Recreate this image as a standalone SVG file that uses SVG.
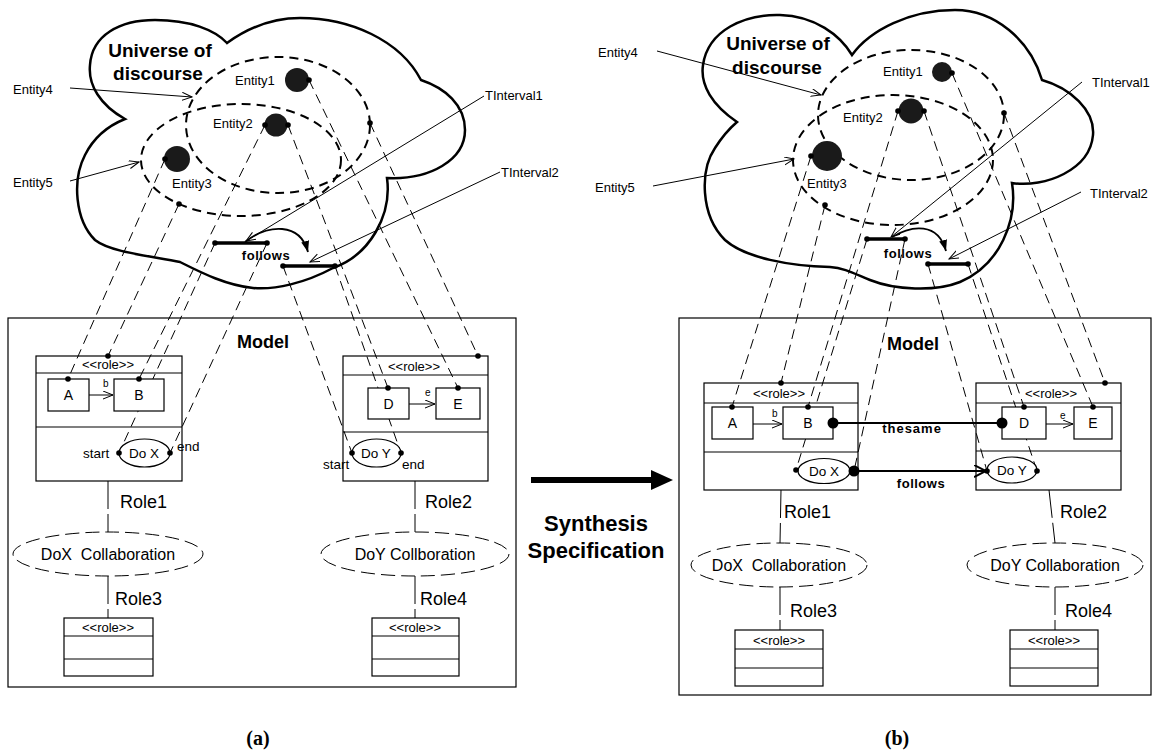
<svg xmlns="http://www.w3.org/2000/svg" width="1154" height="753" viewBox="0 0 1154 753">
  <style>
    text { font-family: "Liberation Sans", Arial, sans-serif; fill: #000; }
    .ent { font-size: 13px; }
    .title { font-size: 19px; font-weight: bold; }
    .model { font-size: 18px; font-weight: bold; }
    .bold13 { font-size: 13px; font-weight: bold; letter-spacing: 0.5px; }
    .stereo { font-size: 13px; }
    .cls { font-size: 14px; }
    .small { font-size: 10px; }
    .port { font-size: 13.5px; }
    .role { font-size: 18px; }
    .collab { font-size: 16px; }
    .big { font-size: 22px; font-weight: bold; }
    .caption { font-family: "Liberation Serif", "Times New Roman", serif; font-size: 20px; font-weight: bold; }
    .cloud { fill: none; stroke: #000; stroke-width: 2.5; }
    .setEll { fill: none; stroke: #000; stroke-width: 2; stroke-dasharray: 9 6; }
    .ent-dot { fill: #1a1a1a; }
    .box { fill: #fff; stroke: #000; stroke-width: 1.2; }
    .frame { fill: none; stroke: #000; stroke-width: 1.2; }
    .sep { stroke: #000; stroke-width: 1.2; }
    .oval { fill: #fff; stroke: #000; stroke-width: 1.2; }
    .proj { fill: none; stroke: #000; stroke-width: 1; stroke-dasharray: 10 6; }
    .roleLink { fill: none; stroke: #000; stroke-width: 1; stroke-dasharray: 28 5; }
    .collEll { fill: none; stroke: #000; stroke-width: 1; stroke-dasharray: 14 6; }
    .thin { fill: none; stroke: #000; stroke-width: 1; }
    .bar { stroke: #000; stroke-width: 3.5; }
    .rel { fill: none; stroke: #000; stroke-width: 2.2; }
    .dot { fill: #000; }
  </style>
  <defs>
    <marker id="open" markerUnits="userSpaceOnUse" markerWidth="12" markerHeight="10" refX="10" refY="4" orient="auto">
      <path d="M0,0 L10,4 L0,8" fill="none" stroke="#000" stroke-width="1"/>
    </marker>
    <marker id="openBig" markerUnits="userSpaceOnUse" markerWidth="14" markerHeight="14" refX="12" refY="6" orient="auto">
      <path d="M0,0 L12,6 L0,12" fill="none" stroke="#000" stroke-width="2"/>
    </marker>
    <marker id="solid" markerUnits="userSpaceOnUse" markerWidth="14" markerHeight="10" refX="11" refY="4" orient="auto">
      <path d="M0,0 L11,4 L0,8 z" fill="#000"/>
    </marker>
  </defs>

  <!-- ===================== panel (a) ===================== -->
  <g id="a-universe">
    <path class="cloud" d="M125,119 C100,105 88,85 90,65 C92,35 120,20 155,20 C190,20 215,30 227,43
      C245,30 270,18 300,18 C350,18 400,40 421,80
      C445,88 465,105 465,130 C465,160 430,180 387,178
      C392,215 370,255 333,268 C305,283 275,290 253,288 C225,285 200,272 180,262
      C150,256 110,252 95,240 C75,220 72,180 85,155 C95,135 110,125 125,119 Z"/>
    <text class="title" x="160" y="57" text-anchor="middle">Universe of</text>
    <text class="title" x="158" y="80" text-anchor="middle">discourse</text>
  </g>
  <g id="a-entity4">
    <ellipse class="setEll" cx="278" cy="125" rx="92" ry="68"/>
    <text class="ent" x="13" y="94">Entity4</text>
    <line class="thin" x1="70" y1="88" x2="192" y2="97" marker-end="url(#open)"/>
  </g>
  <g id="a-entity5">
    <ellipse class="setEll" cx="241" cy="160" rx="100" ry="56"/>
    <text class="ent" x="13" y="187">Entity5</text>
    <line class="thin" x1="70" y1="181" x2="139" y2="162" marker-end="url(#open)"/>
  </g>
  <g id="a-entity1">
    <circle class="ent-dot" cx="297" cy="80" r="12"/>
    <text class="ent" x="235" y="85">Entity1</text>
  </g>
  <g id="a-entity2">
    <circle class="ent-dot" cx="276" cy="125" r="11.5"/>
    <text class="ent" x="213" y="128">Entity2</text>
  </g>
  <g id="a-entity3">
    <circle class="ent-dot" cx="177" cy="159" r="13"/>
    <text class="ent" x="172" y="188">Entity3</text>
  </g>
  <g id="a-tinterval1">
    <line class="bar" x1="215" y1="243" x2="267" y2="243"/>
    <text class="ent" x="485" y="100">TInterval1</text>
  </g>
  <g id="a-tinterval2">
    <line class="bar" x1="283" y1="266" x2="335" y2="266"/>
    <text class="ent" x="501" y="177">TInterval2</text>
  </g>

  <g id="a-model">
    <rect class="frame" x="8" y="318" width="508" height="369"/>
    <text class="model" x="237" y="348">Model</text>
  </g>
  <g id="a-role1">
    <rect class="frame" x="36" y="356" width="146" height="125"/>
    <line class="sep" x1="36" y1="373" x2="182" y2="373"/>
    <line class="sep" x1="36" y1="427" x2="182" y2="427"/>
    <text class="stereo" x="108" y="369" text-anchor="middle">&lt;&lt;role&gt;&gt;</text>
    <text class="role" x="120" y="508">Role1</text>
  </g>
  <g id="a-role2">
    <rect class="frame" x="343" y="356" width="145" height="125"/>
    <line class="sep" x1="343" y1="375" x2="488" y2="375"/>
    <line class="sep" x1="343" y1="432" x2="488" y2="432"/>
    <text class="stereo" x="414" y="371" text-anchor="middle">&lt;&lt;role&gt;&gt;</text>
    <text class="role" x="425" y="508">Role2</text>
  </g>
  <g id="a-dox-collab">
    <ellipse class="collEll" cx="108" cy="554" rx="95" ry="22"/>
    <text class="collab" x="108" y="560" text-anchor="middle" xml:space="preserve">DoX  Collaboration</text>
  </g>
  <g id="a-doy-collab">
    <ellipse class="collEll" cx="415" cy="554" rx="94" ry="22"/>
    <text class="collab" x="415" y="560" text-anchor="middle">DoY Collboration</text>
  </g>
  <g id="a-role3">
    <rect class="frame" x="64" y="618" width="89" height="58"/>
    <line class="sep" x1="64" y1="636" x2="153" y2="636"/>
    <line class="sep" x1="64" y1="659" x2="153" y2="659"/>
    <text class="stereo" x="108" y="632" text-anchor="middle">&lt;&lt;role&gt;&gt;</text>
    <text class="role" x="115" y="605">Role3</text>
  </g>
  <g id="a-role4">
    <rect class="frame" x="372" y="618" width="87" height="58"/>
    <line class="sep" x1="372" y1="636" x2="459" y2="636"/>
    <line class="sep" x1="372" y1="659" x2="459" y2="659"/>
    <text class="stereo" x="415" y="632" text-anchor="middle">&lt;&lt;role&gt;&gt;</text>
    <text class="role" x="420" y="605">Role4</text>
  </g>

  <!-- ===================== panel (b) ===================== -->
  <g id="b-universe">
    <path class="cloud" d="M737,122 C712,105 700,85 703,65 C708,30 745,14 780,15 C815,16 840,35 852,55
      C870,30 910,10 955,10 C995,10 1030,40 1042,80
      C1070,88 1095,110 1093,135 C1090,170 1045,188 1012,183
      C1018,220 1000,265 960,282 C935,292 895,290 870,280 C855,274 845,268 830,267
      C790,266 745,258 725,240 C700,215 700,170 715,148 C722,137 730,128 737,122 Z"/>
    <text class="title" x="778" y="50" text-anchor="middle">Universe of</text>
    <text class="title" x="777" y="74" text-anchor="middle">discourse</text>
  </g>
  <g id="b-entity4">
    <ellipse class="setEll" cx="911" cy="115" rx="93" ry="65"/>
    <text class="ent" x="598" y="57">Entity4</text>
    <line class="thin" x1="657" y1="51" x2="821" y2="95" marker-end="url(#open)"/>
  </g>
  <g id="b-entity5">
    <ellipse class="setEll" cx="893" cy="160" rx="100" ry="65"/>
    <text class="ent" x="595" y="192">Entity5</text>
    <line class="thin" x1="653" y1="186" x2="794" y2="159" marker-end="url(#open)"/>
  </g>
  <g id="b-entity1">
    <circle class="ent-dot" cx="942" cy="72" r="10"/>
    <text class="ent" x="883" y="76">Entity1</text>
  </g>
  <g id="b-entity2">
    <circle class="ent-dot" cx="911" cy="111" r="12.5"/>
    <text class="ent" x="843" y="122">Entity2</text>
  </g>
  <g id="b-entity3">
    <circle class="ent-dot" cx="827" cy="156" r="15"/>
    <text class="ent" x="807" y="188">Entity3</text>
  </g>
  <g id="b-tinterval1">
    <line class="bar" x1="867" y1="239" x2="905" y2="239"/>
    <text class="ent" x="1092" y="87">TInterval1</text>
  </g>
  <g id="b-tinterval2">
    <line class="bar" x1="928" y1="264" x2="968" y2="264"/>
    <text class="ent" x="1090" y="198">TInterval2</text>
  </g>

  <g id="b-model">
    <rect class="frame" x="679" y="318" width="472" height="377"/>
    <text class="model" x="887" y="350">Model</text>
  </g>
  <g id="b-role1">
    <rect class="frame" x="704" y="383" width="154" height="107"/>
    <line class="sep" x1="704" y1="403" x2="858" y2="403"/>
    <line class="sep" x1="704" y1="452" x2="858" y2="452"/>
    <text class="stereo" x="779" y="398" text-anchor="middle">&lt;&lt;role&gt;&gt;</text>
    <text class="role" x="784" y="518">Role1</text>
  </g>
  <g id="b-role2">
    <rect class="frame" x="976" y="383" width="145" height="107"/>
    <line class="sep" x1="976" y1="403" x2="1121" y2="403"/>
    <line class="sep" x1="976" y1="451" x2="1121" y2="451"/>
    <text class="stereo" x="1051" y="398" text-anchor="middle">&lt;&lt;role&gt;&gt;</text>
    <text class="role" x="1060" y="518">Role2</text>
  </g>
  <g id="b-dox-collab">
    <ellipse class="collEll" cx="779" cy="565" rx="88" ry="22"/>
    <text class="collab" x="779" y="571" text-anchor="middle" xml:space="preserve">DoX  Collaboration</text>
  </g>
  <g id="b-doy-collab">
    <ellipse class="collEll" cx="1055" cy="565" rx="88" ry="22"/>
    <text class="collab" x="1055" y="571" text-anchor="middle">DoY Collaboration</text>
  </g>
  <g id="b-role3">
    <rect class="frame" x="735" y="630" width="88" height="56"/>
    <line class="sep" x1="735" y1="649" x2="823" y2="649"/>
    <line class="sep" x1="735" y1="668" x2="823" y2="668"/>
    <text class="stereo" x="779" y="645" text-anchor="middle">&lt;&lt;role&gt;&gt;</text>
    <text class="role" x="790" y="617">Role3</text>
  </g>
  <g id="b-role4">
    <rect class="frame" x="1010" y="630" width="88" height="56"/>
    <line class="sep" x1="1010" y1="649" x2="1098" y2="649"/>
    <line class="sep" x1="1010" y1="668" x2="1098" y2="668"/>
    <text class="stereo" x="1054" y="645" text-anchor="middle">&lt;&lt;role&gt;&gt;</text>
    <text class="role" x="1065" y="617">Role4</text>
  </g>

  <!-- ===================== connectors ===================== -->
  <g id="connectors">
    <!-- (a) projections from the universe into the model -->
    <line class="proj" x1="165" y1="159" x2="68" y2="379"/>
    <line class="proj" x1="179" y1="204" x2="108" y2="356"/>
    <line class="proj" x1="265" y1="125" x2="139" y2="379"/>
    <line class="proj" x1="215" y1="243" x2="119" y2="453"/>
    <line class="proj" x1="267" y1="243" x2="170" y2="453"/>
    <line class="proj" x1="283" y1="266" x2="352" y2="453"/>
    <line class="proj" x1="335" y1="266" x2="401" y2="453"/>
    <line class="proj" x1="288" y1="125" x2="388" y2="388"/>
    <line class="proj" x1="309" y1="80" x2="458" y2="388"/>
    <line class="proj" x1="370" y1="123" x2="478" y2="356"/>
    <!-- (a) interval pointers and the follows relation -->
    <line class="thin" x1="484" y1="96" x2="246" y2="241" marker-end="url(#open)"/>
    <line class="thin" x1="500" y1="172" x2="310" y2="262" marker-end="url(#open)"/>
    <path class="thin" style="stroke-width:1.8" d="M245,242 C268,224 300,222 308,252" marker-end="url(#solid)"/>
    <!-- (a) role links -->
    <line class="roleLink" x1="108" y1="481" x2="108" y2="532"/>
    <line class="roleLink" x1="108" y1="576" x2="108" y2="618"/>
    <line class="roleLink" x1="415" y1="481" x2="415" y2="532"/>
    <line class="roleLink" x1="415" y1="576" x2="415" y2="618"/>

    <!-- (b) projections from the universe into the model -->
    <line class="proj" x1="811" y1="156" x2="732" y2="407"/>
    <line class="proj" x1="825" y1="205" x2="781" y2="383"/>
    <line class="proj" x1="898" y1="111" x2="808" y2="407"/>
    <line class="proj" x1="867" y1="239" x2="796" y2="470"/>
    <line class="proj" x1="905" y1="239" x2="854" y2="471"/>
    <line class="proj" x1="928" y1="264" x2="987" y2="471"/>
    <line class="proj" x1="968" y1="264" x2="1037" y2="471"/>
    <line class="proj" x1="924" y1="111" x2="1024" y2="407"/>
    <line class="proj" x1="952" y1="73" x2="1093" y2="407"/>
    <line class="proj" x1="1004" y1="113" x2="1105" y2="383"/>
    <!-- (b) interval pointers and the follows relation -->
    <line class="thin" x1="1082" y1="82" x2="891" y2="237" marker-end="url(#open)"/>
    <line class="thin" x1="1081" y1="192" x2="949" y2="259" marker-end="url(#open)"/>
    <path class="thin" style="stroke-width:1.8" d="M892,237 C912,225 938,222 946,251" marker-end="url(#solid)"/>
    <!-- (b) role links -->
    <line class="roleLink" x1="781" y1="490" x2="780" y2="543"/>
    <line class="roleLink" x1="780" y1="587" x2="780" y2="630"/>
    <line class="roleLink" x1="1049" y1="490" x2="1055" y2="543"/>
    <line class="roleLink" x1="1055" y1="587" x2="1055" y2="630"/>
  </g>

  <!-- inner parts drawn over the projections -->
  <g id="a-A">
    <rect class="box" x="48" y="379" width="41" height="32"/>
    <text class="cls" x="68.5" y="400" text-anchor="middle">A</text>
  </g>
  <g id="a-B">
    <rect class="box" x="114" y="379" width="50" height="32"/>
    <text class="cls" x="139" y="400" text-anchor="middle">B</text>
  </g>
  <g id="a-D">
    <rect class="box" x="368" y="388" width="41" height="31"/>
    <text class="cls" x="388.5" y="409" text-anchor="middle">D</text>
  </g>
  <g id="a-E">
    <rect class="box" x="436" y="388" width="44" height="31"/>
    <text class="cls" x="458" y="409" text-anchor="middle">E</text>
  </g>
  <g id="a-dox">
    <ellipse class="oval" cx="144.5" cy="453" rx="25.5" ry="14"/>
    <text class="port" x="144" y="458" text-anchor="middle">Do X</text>
    <text class="port" x="83" y="458">start</text>
    <text class="port" x="177" y="451">end</text>
  </g>
  <g id="a-doy">
    <ellipse class="oval" cx="376.5" cy="453" rx="24.5" ry="14"/>
    <text class="port" x="376" y="458" text-anchor="middle">Do Y</text>
    <text class="port" x="323" y="469">start</text>
    <text class="port" x="402" y="469">end</text>
  </g>
  <g id="b-A">
    <rect class="box" x="712" y="407" width="41" height="32"/>
    <text class="cls" x="732.5" y="428" text-anchor="middle">A</text>
  </g>
  <g id="b-B">
    <rect class="box" x="783" y="407" width="50" height="32"/>
    <text class="cls" x="808" y="428" text-anchor="middle">B</text>
  </g>
  <g id="b-D">
    <rect class="box" x="1002" y="407" width="44" height="32"/>
    <text class="cls" x="1024" y="428" text-anchor="middle">D</text>
  </g>
  <g id="b-E">
    <rect class="box" x="1074" y="407" width="38" height="32"/>
    <text class="cls" x="1093" y="428" text-anchor="middle">E</text>
  </g>
  <g id="b-dox">
    <ellipse class="oval" cx="824" cy="471" rx="26" ry="12.5"/>
    <text class="port" x="824" y="476" text-anchor="middle">Do X</text>
  </g>
  <g id="b-doy">
    <ellipse class="oval" cx="1012" cy="470" rx="25" ry="13"/>
    <text class="port" x="1012" y="475" text-anchor="middle">Do Y</text>
  </g>

  <g id="associations">
    <line class="thin" x1="89" y1="395" x2="113" y2="395" marker-end="url(#open)"/>
    <text class="small" x="103" y="387">b</text>
    <line class="thin" x1="409" y1="404" x2="435" y2="404" marker-end="url(#open)"/>
    <text class="small" x="425" y="396">e</text>
    <line class="thin" x1="753" y1="424" x2="782" y2="424" marker-end="url(#open)"/>
    <text class="small" x="772" y="417">b</text>
    <line class="thin" x1="1046" y1="424" x2="1073" y2="424" marker-end="url(#open)"/>
    <text class="small" x="1060" y="419">e</text>
  </g>

  <g id="b-relations">
    <line class="rel" x1="833" y1="423" x2="1002" y2="423"/>
    <text class="bold13" x="912" y="433" text-anchor="middle" style="letter-spacing:1px">thesame</text>
    <line class="rel" x1="854" y1="471" x2="986" y2="471" marker-end="url(#openBig)"/>
    <text class="bold13" x="921" y="488" text-anchor="middle">follows</text>
  </g>

  <g id="follows-labels">
    <text class="bold13" x="266" y="260" text-anchor="middle">follows</text>
    <text class="bold13" x="908" y="258" text-anchor="middle">follows</text>
  </g>

  <!-- connection points -->
  <g id="points">
    <circle class="dot" cx="309" cy="80" r="2.8"/>
    <circle class="dot" cx="265" cy="125" r="2.8"/>
    <circle class="dot" cx="288" cy="125" r="2.8"/>
    <circle class="dot" cx="165" cy="159" r="2.8"/>
    <circle class="dot" cx="179" cy="204" r="2.8"/>
    <circle class="dot" cx="370" cy="123" r="2.8"/>
    <circle class="dot" cx="215" cy="243" r="2.8"/>
    <circle class="dot" cx="267" cy="243" r="2.8"/>
    <circle class="dot" cx="283" cy="266" r="2.8"/>
    <circle class="dot" cx="335" cy="266" r="2.8"/>
    <circle class="dot" cx="68" cy="379" r="2.8"/>
    <circle class="dot" cx="108" cy="356" r="2.8"/>
    <circle class="dot" cx="139" cy="379" r="2.8"/>
    <circle class="dot" cx="119" cy="453" r="2.8"/>
    <circle class="dot" cx="170" cy="453" r="2.8"/>
    <circle class="dot" cx="352" cy="453" r="2.8"/>
    <circle class="dot" cx="401" cy="453" r="2.8"/>
    <circle class="dot" cx="388" cy="388" r="2.8"/>
    <circle class="dot" cx="458" cy="388" r="2.8"/>
    <circle class="dot" cx="478" cy="356" r="2.8"/>

    <circle class="dot" cx="952" cy="73" r="2.8"/>
    <circle class="dot" cx="898" cy="111" r="2.8"/>
    <circle class="dot" cx="924" cy="111" r="2.8"/>
    <circle class="dot" cx="811" cy="156" r="2.8"/>
    <circle class="dot" cx="825" cy="205" r="2.8"/>
    <circle class="dot" cx="1004" cy="113" r="2.8"/>
    <circle class="dot" cx="867" cy="239" r="2.8"/>
    <circle class="dot" cx="905" cy="239" r="2.8"/>
    <circle class="dot" cx="928" cy="264" r="2.8"/>
    <circle class="dot" cx="968" cy="264" r="2.8"/>
    <circle class="dot" cx="732" cy="407" r="2.8"/>
    <circle class="dot" cx="781" cy="383" r="2.8"/>
    <circle class="dot" cx="808" cy="407" r="2.8"/>
    <circle class="dot" cx="796" cy="470" r="2.8"/>
    <circle class="dot" cx="987" cy="471" r="2.8"/>
    <circle class="dot" cx="1037" cy="471" r="2.8"/>
    <circle class="dot" cx="1024" cy="407" r="2.8"/>
    <circle class="dot" cx="1093" cy="407" r="2.8"/>
    <circle class="dot" cx="1105" cy="383" r="2.8"/>
    <circle class="dot" cx="833" cy="423" r="5.5"/>
    <circle class="dot" cx="1002" cy="423" r="5.5"/>
    <circle class="dot" cx="854" cy="471" r="5.5"/>
  </g>

  <!-- transformation arrow between the two panels -->
  <g id="synthesis">
    <rect x="531" y="477" width="123" height="6" fill="#000"/>
    <polygon points="651,470 673,480 651,490" fill="#000"/>
    <text class="big" x="596" y="531" text-anchor="middle">Synthesis</text>
    <text class="big" x="596" y="558" text-anchor="middle">Specification</text>
  </g>

  <g id="captions">
    <text class="caption" x="258" y="745" text-anchor="middle">(a)</text>
    <text class="caption" x="897" y="745" text-anchor="middle">(b)</text>
  </g>
</svg>
